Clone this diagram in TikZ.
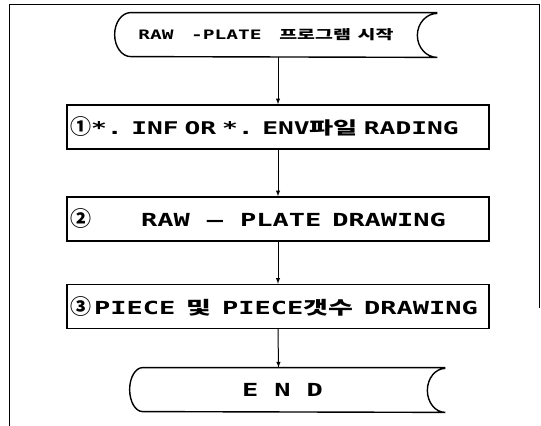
\documentclass[tikz,border=0pt]{standalone}
\usepackage{fontspec}
\setmainfont{DejaVu Sans Mono}[FakeStretch=1.5,WordSpace=1.5]
\newfontfamily\kr{Noto Sans CJK KR}[FakeStretch=1.5,WordSpace=1.5]
\newfontfamily\krnr{Noto Sans CJK KR}
\def\s{0.03515}
\def\punkt#1#2{({(#1)*\s},{(426-(#2))*\s})}
\newcommand\nr[1]{{\krnr\fontsize{21}{21}\selectfont #1}}

\tikzset{
  stepbox/.style={draw,line width=1.4pt,minimum width=422pt,minimum height=44pt,
    inner xsep=3pt,inner ysep=0pt,text width=416pt,align=left,
    font=\bfseries\fontsize{18}{18}\selectfont},
  term/.style={minimum height=44pt,inner sep=0pt,
    font=\bfseries\fontsize{18}{18}\selectfont},
  flow/.style={->,line width=1pt},
}

\begin{document}
\begin{tikzpicture}[>=latex,thick]
\useasboundingbox \punkt{0}{0} rectangle \punkt{541}{426};
% Rahmen
\draw[line width=0.8pt] \punkt{9}{426} -- \punkt{9}{4} -- \punkt{539}{4} -- \punkt{539}{308};

% Start
\node[term,minimum width=302pt,font=\bfseries\fontsize{13}{13}\selectfont] (start) at \punkt{266}{35}
  {RAW -PLATE {\kr 프로그램 시작}};
\draw[line width=1.4pt] ([xshift=20pt]start.north east) -- ([xshift=16pt]start.north west)
  arc[start angle=90,end angle=270,x radius=16pt,y radius=22pt]
  -- ([xshift=20pt]start.south east)
  arc[start angle=-90,end angle=-270,x radius=20pt,y radius=22pt];

% Schritte
\node[stepbox,font=\bfseries\fontsize{17.5}{18}\selectfont] (lesen) at \punkt{278}{127}
  {\nr{①}*. INF OR *. ENV{\kr 파일} RADING};
\node[stepbox] (raw) at \punkt{278}{219}
  {\nr{②}\hspace{50pt}RAW\hspace{17pt}--\hspace{17pt}PLATE\hspace{5pt} DRAWING};
\node[stepbox] (piece) at \punkt{278}{306.5}
  {\nr{③}\hspace{3pt}PIECE\hspace{5pt} {\kr 및}\hspace{5pt} PIECE{\kr 갯수}\hspace{5pt} DRAWING};

% Ende
\node[term,minimum width=297pt] (ende) at \punkt{278.5}{390} {\hspace{8pt}E\hspace{16pt}N\hspace{16pt}D};
\draw[line width=1.4pt] ([xshift=18pt]ende.north east) -- ([xshift=13pt]ende.north west)
  arc[start angle=90,end angle=270,x radius=13pt,y radius=22pt]
  -- ([xshift=18pt]ende.south east)
  arc[start angle=-90,end angle=-270,x radius=18pt,y radius=22pt];

% Pfeile
\draw[flow] (lesen.north |- start.south) -- (lesen.north);
\draw[flow] (lesen.south) -- (raw.north);
\draw[flow] (raw.south) -- (piece.north);
\draw[flow] (piece.south) -- (ende.north);
\end{tikzpicture}
\end{document}
